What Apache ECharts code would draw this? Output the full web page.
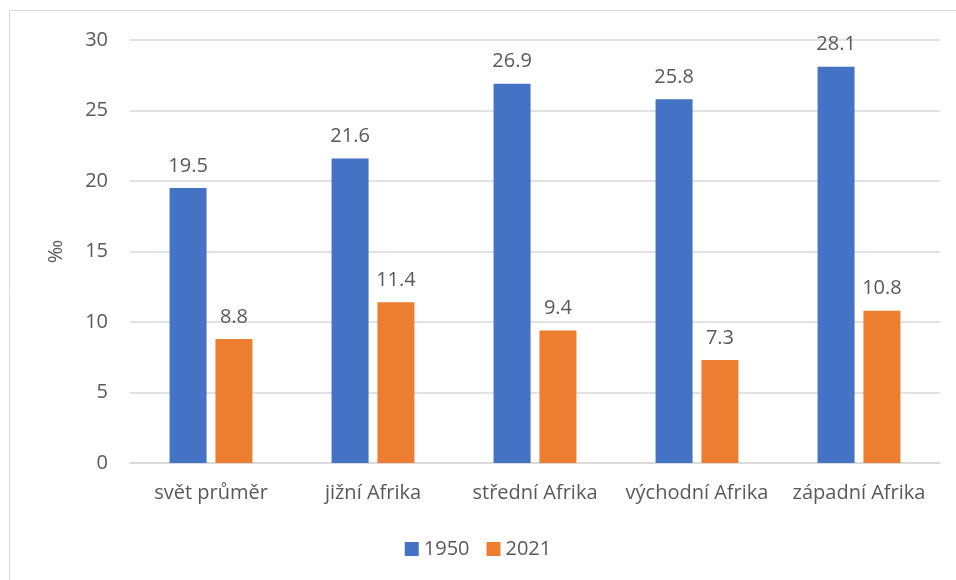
<!DOCTYPE html>
<html><head><meta charset="utf-8">
<script src="https://cdn.jsdelivr.net/npm/echarts@6/dist/echarts.min.js"></script>
<style>html,body{margin:0;padding:0;background:#fff}#c{width:956px;height:580px}</style>
</head><body><div id="c"></div>
<script>
const categories = ['svět průměr','jižní Afrika','střední Afrika','východní Afrika','západní Afrika'];
const values1950 = [19.5, 21.6, 26.9, 25.8, 28.1];
const values2021 = [8.8, 11.4, 9.4, 7.3, 10.8];
const seriesNames = ['1950','2021'];
const FONT = '"Open Sans", "Noto Sans", sans-serif';
const TXT = '#595959';
const FS = 20;
const chart = echarts.init(document.getElementById('c'));
const lbl = {show:true, position:'top', distance:12, color:TXT, fontSize:FS, fontFamily:FONT, formatter: p => p.value.toFixed(1)};
chart.setOption({
  animation:false,
  graphic:[{type:'rect', shape:{x:9.5,y:10.5,width:950,height:570}, style:{fill:'none', stroke:'#D9D9D9', lineWidth:1}}],
  grid:{left:130, right:16, top:40, bottom:117},
  legend:{data:seriesNames, bottom:16, left:'center', itemWidth:14, itemHeight:14, itemGap:17, icon:'rect',
    textStyle:{color:TXT, fontSize:FS, fontFamily:FONT}},
  xAxis:{type:'category', data:categories, axisTick:{show:false},
    axisLine:{lineStyle:{color:'#D9D9D9', width:1.5}},
    axisLabel:{color:TXT, fontSize:FS, fontFamily:FONT, margin:20, interval:0}},
  yAxis:{type:'value', min:0, max:30, interval:5, name:'‰', nameLocation:'middle', nameGap:64, nameRotate:90,
    nameTextStyle:{color:TXT, fontSize:FS, fontFamily:FONT},
    axisLabel:{color:TXT, fontSize:FS, fontFamily:FONT, margin:22},
    splitLine:{lineStyle:{color:'#D9D9D9', width:1.5}}},
  series:[
    {name:seriesNames[0], type:'bar', data:values1950, barWidth:37, barGap:'24%', itemStyle:{color:'#4472C4'}, label:lbl},
    {name:seriesNames[1], type:'bar', data:values2021, barWidth:37, itemStyle:{color:'#ED7D31'}, label:lbl}
  ]
});
</script></body></html>
